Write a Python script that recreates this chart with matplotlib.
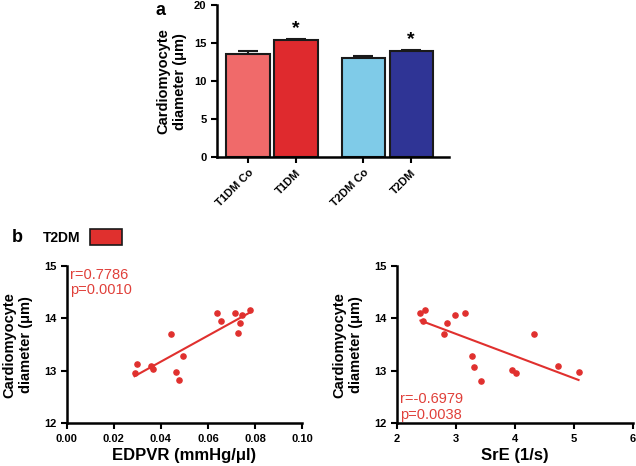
import numpy as np
import matplotlib
matplotlib.use("Agg")
import matplotlib.pyplot as plt
from matplotlib.patches import Rectangle

plt.rcParams['font.family'] = ['Liberation Sans', 'DejaVu Sans']

# Panel a data
groups = ["T1DM Co", "T1DM", "T2DM Co", "T2DM"]
diam_mean = [13.55, 15.4, 13.1, 14.0]
diam_err = [0.45, 0.15, 0.15, 0.1]
bar_colors = ["#f06a6a", "#df2a2e", "#7fcbe8", "#2f3495"]
sig = [False, True, False, True]

# Panel b data
edpvr = [0.0288, 0.0298, 0.0357, 0.0366, 0.0445, 0.0464, 0.0478, 0.0496,
         0.0637, 0.0655, 0.0713, 0.0726, 0.0735, 0.0746, 0.0779]
diam_edpvr = [12.96, 13.12, 13.09, 13.03, 13.71, 12.98, 12.82, 13.28,
              14.11, 13.96, 14.11, 13.72, 13.92, 14.06, 14.17]
sre = [2.40, 2.47, 2.44, 2.80, 2.85, 2.99, 3.16, 3.28, 3.30, 3.42,
       3.95, 4.02, 4.32, 4.73, 5.08]
diam_sre = [14.11, 14.17, 13.95, 13.71, 13.92, 14.06, 14.11, 13.28, 13.07, 12.80,
            13.02, 12.96, 13.71, 13.10, 12.98]
stats_left = "r=0.7786\np=0.0010"
stats_right = "r=-0.6979\np=0.0038"

red = "#e0302e"
txt_red = "#e0403a"

fig = plt.figure(figsize=(6.36, 4.66), dpi=100)

def style(ax, fs=8):
    for s in ["top", "right"]:
        ax.spines[s].set_visible(False)
    for s in ["left", "bottom"]:
        ax.spines[s].set_linewidth(1.8)
    ax.tick_params(width=1.5, length=4, labelsize=fs)
    for lab in ax.get_xticklabels() + ax.get_yticklabels():
        lab.set_fontweight("bold")

# Panel a
axa = fig.add_axes([0.341, 0.663, 0.365, 0.326])
x = np.array([0, 1, 2.4, 3.4])
axa.bar(x, diam_mean, width=0.9, color=bar_colors, edgecolor="#1a1a1a", linewidth=1.5, zorder=2)
axa.errorbar(x, diam_mean, yerr=[np.zeros(4), diam_err], fmt="none", ecolor="#1a1a1a",
             elinewidth=1.5, capsize=7, capthick=1.5, zorder=1)
for xi, m, e, s in zip(x, diam_mean, diam_err, sig):
    if s:
        axa.text(xi, m + e + 0.2, "*", ha="center", va="bottom", fontsize=14, fontweight="bold")
axa.set_xlim(-0.65, 4.19)
axa.set_ylim(0, 20)
axa.set_yticks([0, 5, 10, 15, 20])
axa.set_xticks(x)
axa.set_xticklabels(groups, rotation=45, ha="right", rotation_mode="anchor", fontsize=8)
axa.set_ylabel("Cardiomyocyte\ndiameter (μm)", fontsize=10.5, fontweight="bold", labelpad=5)
style(axa, 8)
fig.text(0.245, 0.995, "a", fontsize=13, fontweight="bold", ha="left", va="top")

# Panel b left
axl = fig.add_axes([0.105, 0.092, 0.370, 0.337])
axl.scatter(edpvr, diam_edpvr, s=14, color=red, zorder=3)
k, b0 = np.polyfit(edpvr, diam_edpvr, 1)
xl = np.array([min(edpvr), max(edpvr)])
axl.plot(xl, k * xl + b0, color=red, lw=1.5)
axl.set_xlim(0, 0.10)
axl.set_ylim(12, 15)
axl.set_xticks([0.00, 0.02, 0.04, 0.06, 0.08, 0.10])
axl.set_xticklabels(["0.00", "0.02", "0.04", "0.06", "0.08", "0.10"])
axl.set_yticks([12, 13, 14, 15])
axl.set_xlabel("EDPVR (mmHg/μl)", fontsize=12, fontweight="bold", labelpad=3)
axl.set_ylabel("Cardiomyocyte\ndiameter (μm)", fontsize=10.5, fontweight="bold", labelpad=8)
axl.text(0.015, 0.99, stats_left, transform=axl.transAxes, color=txt_red, fontsize=10.5,
         ha="left", va="top", linespacing=1.1)
style(axl, 8)

# Panel b right
axr = fig.add_axes([0.624, 0.092, 0.371, 0.337])
axr.scatter(sre, diam_sre, s=14, color=red, zorder=3)
k2, b2 = np.polyfit(sre, diam_sre, 1)
xr = np.array([min(sre), max(sre)])
axr.plot(xr, k2 * xr + b2, color=red, lw=1.5)
axr.set_xlim(2, 6)
axr.set_ylim(12, 15)
axr.set_xticks([2, 3, 4, 5, 6])
axr.set_yticks([12, 13, 14, 15])
axr.set_xlabel("SrE (1/s)", fontsize=12, fontweight="bold", labelpad=3)
axr.set_ylabel("Cardiomyocyte\ndiameter (μm)", fontsize=10.5, fontweight="bold", labelpad=8)
axr.text(0.015, 0.01, stats_right, transform=axr.transAxes, color=txt_red, fontsize=10.5,
         ha="left", va="bottom", linespacing=1.1)
style(axr, 8)

# b label and legend
fig.text(0.018, 0.49, "b", fontsize=13, fontweight="bold", ha="left", va="center")
fig.text(0.068, 0.49, "T2DM", fontsize=10, fontweight="bold", ha="left", va="center")
fig.patches.append(Rectangle((0.142, 0.475), 0.05, 0.033, transform=fig.transFigure,
                             facecolor=red, edgecolor="#1a1a1a", linewidth=1.2))

fig.savefig("out.png", dpi=100)
